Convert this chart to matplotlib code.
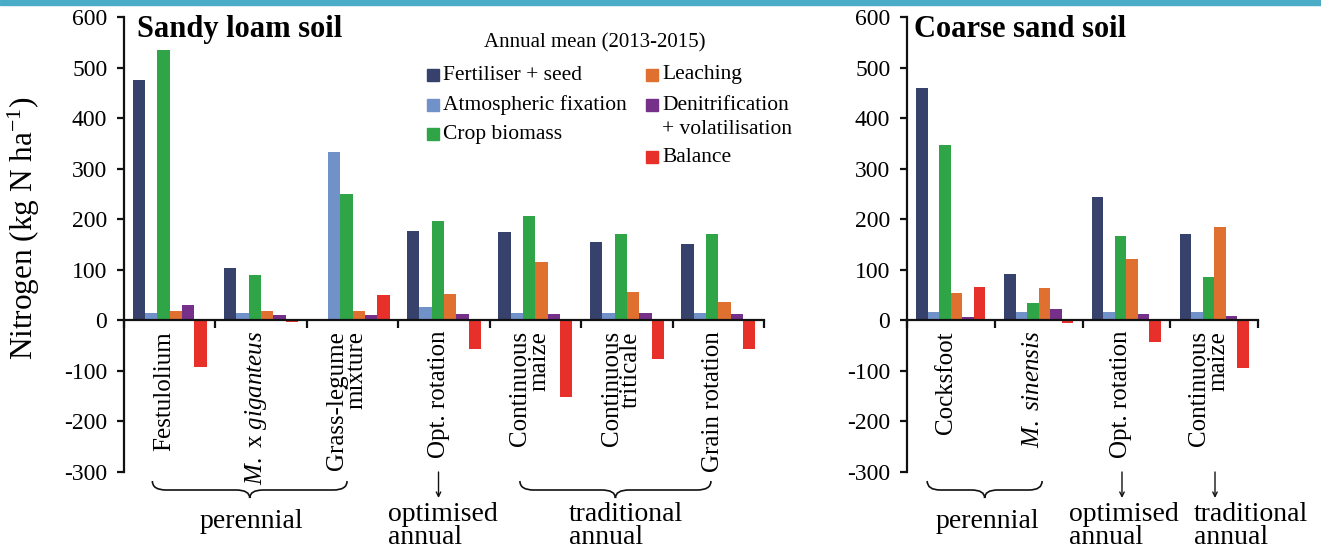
import matplotlib
matplotlib.use("Agg")
import matplotlib.pyplot as plt
import numpy as np
from matplotlib.patches import Rectangle, PathPatch
from matplotlib.path import Path
from matplotlib.transforms import blended_transform_factory

plt.rcParams['font.family'] = 'Liberation Serif'
plt.rcParams['mathtext.fontset'] = 'custom'
plt.rcParams['mathtext.rm'] = 'Liberation Serif'
plt.rcParams['mathtext.it'] = 'Liberation Serif:italic'
plt.rcParams['mathtext.bf'] = 'Liberation Serif:bold'

# ---------------- data ----------------
series = ["Fertiliser + seed", "Atmospheric fixation", "Crop biomass",
          "Leaching", "Denitrification\n+ volatilisation", "Balance"]
colors = ["#37426C", "#7191C9", "#2FA548", "#E0702F", "#75308A", "#E8302B"]

sandy_categories = ["Festulolium", r"$\it{M.}$ x $\it{giganteus}$", "Grass-legume\nmixture",
                    "Opt. rotation", "Continuous\nmaize", "Continuous\ntriticale", "Grain rotation"]
sandy_fert = [475, 103, 0, 177, 174, 154, 151]
sandy_atm = [15, 15, 332, 27, 15, 15, 15]
sandy_crop = [534, 89, 250, 197, 207, 171, 171]
sandy_leach = [19, 19, 19, 52, 115, 57, 37]
sandy_denit = [30, 10, 10, 12, 12, 15, 12]
sandy_balance = [-93, -3, 50, -57, -152, -77, -57]

coarse_categories = ["Cocksfoot", r"$\it{M.\ sinensis}$", "Opt. rotation", "Continuous\nmaize"]
coarse_fert = [459, 91, 243, 170]
coarse_atm = [16, 16, 16, 16]
coarse_crop = [346, 34, 167, 86]
coarse_leach = [55, 64, 122, 184]
coarse_denit = [7, 23, 12, 9]
coarse_balance = [66, -5, -43, -95]

yticks = [-300, -200, -100, 0, 100, 200, 300, 400, 500, 600]

# ---------------- figure ----------------
W, H = 1321, 549
fig = plt.figure(figsize=(W / 100, H / 100), dpi=100)
FONT = 'Liberation Serif'


def fx(x):
    return x / W


def fy(y):
    return 1 - y / H


fig.patches.append(Rectangle((0, fy(5)), 1, 5 / H, transform=fig.transFigure,
                             color="#4AACC6", zorder=0))

ax1 = fig.add_axes([fx(124), fy(472), fx(764) - fx(124), fy(17) - fy(472)])
ax2 = fig.add_axes([fx(907), fy(472), fx(1258) - fx(907), fy(17) - fy(472)])


def draw_panel(ax, cats, data, width, title):
    n = len(cats)
    x = np.arange(n) + 0.5
    for k, (vals, c) in enumerate(zip(data, colors)):
        ax.bar(x + (k - 2.5) * width, vals, width=width, color=c, edgecolor="none", zorder=2)
    ax.set_xlim(0, n)
    ax.set_ylim(-300, 600)
    ax.set_yticks(yticks)
    ax.set_yticklabels([str(v) for v in yticks], fontfamily=FONT, fontsize=17)
    ax.set_xticks(np.arange(n + 1))
    ax.spines['bottom'].set_position(('data', 0))
    ax.spines['top'].set_visible(False)
    ax.spines['right'].set_visible(False)
    for s in ['left', 'bottom']:
        ax.spines[s].set_linewidth(1.6)
        ax.spines[s].set_color('#111111')
    ax.tick_params(axis='x', direction='out', length=6, width=1.6, labelbottom=False,
                   color='#111111')
    ax.tick_params(axis='y', direction='out', length=5, width=1.6,
                   pad=7, color='#111111')
    ax.patch.set_alpha(0)
    ax.text(0.021, 1.005, title, transform=ax.transAxes, fontsize=22, fontweight='bold',
            va='top', ha='left', fontfamily=FONT)
    tr = blended_transform_factory(ax.transData, fig.transFigure)
    for i, lab in enumerate(cats):
        ax.text(i + 0.44, fy(331), lab, transform=tr, rotation=90, ha='center', va='top',
                fontsize=18, multialignment='right', linespacing=0.85, fontfamily=FONT)


draw_panel(ax1, sandy_categories,
           [sandy_fert, sandy_atm, sandy_crop, sandy_leach, sandy_denit, sandy_balance],
           0.135, "Sandy loam soil")
draw_panel(ax2, coarse_categories,
           [coarse_fert, coarse_atm, coarse_crop, coarse_leach, coarse_denit, coarse_balance],
           0.131, "Coarse sand soil")

ax1.set_ylabel(r"Nitrogen (kg N ha$^{\mathrm{-1}}$)", fontsize=22.5, fontfamily=FONT)
ax1.yaxis.set_label_coords((42 - 124) / 640, (472 - 228) / 455)


# ---------------- braces, arrows, group labels ----------------
def brace(ax, x0, x1, r=0.15):
    tr = blended_transform_factory(ax.transData, fig.transFigure)
    ye, ym, yt = fy(481), fy(490), fy(498)
    xc = (x0 + x1) / 2
    verts = [(x0, ye), (x0, ym), (x0 + r, ym), (xc - r, ym), (xc, ym), (xc, yt),
             (xc, ym), (xc + r, ym), (x1 - r, ym), (x1, ym), (x1, ye)]
    codes = [Path.MOVETO, Path.CURVE3, Path.CURVE3, Path.LINETO, Path.CURVE3, Path.CURVE3,
             Path.CURVE3, Path.CURVE3, Path.LINETO, Path.CURVE3, Path.CURVE3]
    p = PathPatch(Path(verts, codes), transform=tr, fill=False, lw=1.2,
                  edgecolor='#111111', clip_on=False)
    fig.add_artist(p)


def arrow(ax, x):
    tr = blended_transform_factory(ax.transData, fig.transFigure)
    ax.annotate('', xy=(x, fy(498)), xytext=(x, fy(472)), xycoords=tr, textcoords=tr,
                arrowprops=dict(arrowstyle='->', lw=1.0, color='#111111',
                                shrinkA=0, shrinkB=0, mutation_scale=8),
                annotation_clip=False)


lblsize = 20
brace(ax1, 0.31, 2.44)
fig.text(fx(251), fy(522), "perennial", ha='center', va='center', fontsize=lblsize,
         fontfamily=FONT)
arrow(ax1, 3.44)
fig.text(fx(388), fy(526), "optimised\nannual", ha='left', va='center', fontsize=lblsize,
         linespacing=0.9, fontfamily=FONT)
brace(ax1, 4.33, 6.42)
fig.text(fx(569), fy(526), "traditional\nannual", ha='left', va='center', fontsize=lblsize,
         linespacing=0.9, fontfamily=FONT)

brace(ax2, 0.23, 1.54)
fig.text(fx(987), fy(522), "perennial", ha='center', va='center', fontsize=lblsize,
         fontfamily=FONT)
arrow(ax2, 2.45)
fig.text(fx(1069), fy(526), "optimised\nannual", ha='left', va='center', fontsize=lblsize,
         linespacing=0.9, fontfamily=FONT)
arrow(ax2, 3.51)
fig.text(fx(1194), fy(526), "traditional\nannual", ha='left', va='center', fontsize=lblsize,
         linespacing=0.9, fontfamily=FONT)

# ---------------- legend ----------------
legsize = 15.5
fig.text(fx(595), fy(43), "Annual mean (2013-2015)", ha='center', va='center', fontsize=15,
         fontfamily=FONT)
leg_pos = [(427, 75), (427, 105), (427, 134), (646, 75), (646, 105), (646, 157)]
for (lx, ly), name, c in zip(leg_pos, series, colors):
    fig.patches.append(Rectangle((fx(lx), fy(ly + 6)), 12 / W, 12 / H,
                                 transform=fig.transFigure, color=c))
    first, *rest = name.split("\n")
    fig.text(fx(lx + 16), fy(ly), first, ha='left', va='center', fontsize=legsize,
             fontfamily=FONT)
    for j, line in enumerate(rest):
        fig.text(fx(lx + 16), fy(ly + 24 * (j + 1)), line, ha='left', va='center',
                 fontsize=legsize, fontfamily=FONT)

fig.savefig("out.png", dpi=100)
